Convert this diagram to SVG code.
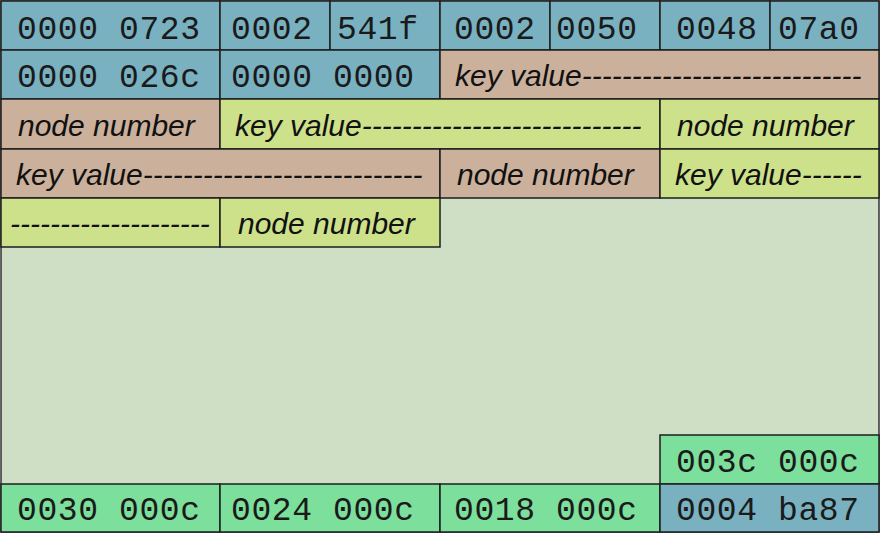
<svg xmlns="http://www.w3.org/2000/svg" width="881" height="534" viewBox="0 0 881 534">
  <style>
    .cell { stroke: #1e1e1e; stroke-width: 1.5; }
    .blue { fill: #79b1c1; }
    .tan { fill: #cbb09b; }
    .lime { fill: #cde08a; }
    .mint { fill: #7ddf9c; }
    .hex { font-family: "Liberation Mono", "Courier New", monospace; font-size: 33px; letter-spacing: 0.6px; fill: #1a1a1a; }
    .lbl { font-family: "Liberation Sans", Arial, sans-serif; font-size: 30px; font-style: italic; fill: #111; }
  </style>

  <!-- page background -->
  <rect x="1" y="1" width="878" height="531" fill="#cfdfc5" stroke="#333" stroke-width="1.5"/>

  <!-- row 1: header words -->
  <g id="hdr-0"><rect class="cell blue" x="1" y="1" width="219" height="49"/><text class="hex" x="17" y="39">0000 0723</text></g>
  <g id="hdr-1"><rect class="cell blue" x="220" y="1" width="110" height="49"/><text class="hex" x="231" y="39">0002</text></g>
  <g id="hdr-2"><rect class="cell blue" x="330" y="1" width="110" height="49"/><text class="hex" x="337" y="39">541f</text></g>
  <g id="hdr-3"><rect class="cell blue" x="440" y="1" width="110" height="49"/><text class="hex" x="454" y="39">0002</text></g>
  <g id="hdr-4"><rect class="cell blue" x="550" y="1" width="110" height="49"/><text class="hex" x="556" y="39">0050</text></g>
  <g id="hdr-5"><rect class="cell blue" x="660" y="1" width="110" height="49"/><text class="hex" x="676" y="39">0048</text></g>
  <g id="hdr-6"><rect class="cell blue" x="770" y="1" width="109" height="49"/><text class="hex" x="778" y="39">07a0</text></g>

  <!-- row 2 -->
  <g id="hdr-7"><rect class="cell blue" x="1" y="50" width="219" height="49"/><text class="hex" x="17" y="87">0000 026c</text></g>
  <g id="hdr-8"><rect class="cell blue" x="220" y="50" width="220" height="49"/><text class="hex" x="231" y="87">0000 0000</text></g>
  <g id="key-1"><rect class="cell tan" x="440" y="50" width="439" height="49"/><text class="lbl" x="455" y="86">key value----------------------------</text></g>

  <!-- row 3 -->
  <g id="node-1"><rect class="cell tan" x="1" y="99" width="219" height="50"/><text class="lbl" x="18" y="136">node number</text></g>
  <g id="key-2"><rect class="cell lime" x="220" y="99" width="440" height="50"/><text class="lbl" x="235" y="136">key value----------------------------</text></g>
  <g id="node-2"><rect class="cell lime" x="660" y="99" width="219" height="50"/><text class="lbl" x="677" y="136">node number</text></g>

  <!-- row 4 -->
  <g id="key-3"><rect class="cell tan" x="1" y="149" width="439" height="49"/><text class="lbl" x="16" y="185">key value----------------------------</text></g>
  <g id="node-3"><rect class="cell tan" x="440" y="149" width="220" height="49"/><text class="lbl" x="457" y="185">node number</text></g>
  <g id="key-4"><rect class="cell lime" x="660" y="149" width="219" height="49"/><text class="lbl" x="675" y="185">key value------</text></g>

  <!-- row 5 -->
  <g id="key-4b"><rect class="cell lime" x="1" y="198" width="219" height="49"/><text class="lbl" x="10" y="234">--------------------</text></g>
  <g id="node-4"><rect class="cell lime" x="220" y="198" width="220" height="49"/><text class="lbl" x="238" y="234">node number</text></g>

  <!-- offset table at the bottom -->
  <g id="ofs-4"><rect class="cell mint" x="660" y="435" width="219" height="49"/><text class="hex" x="676" y="472">003c 000c</text></g>
  <g id="ofs-0"><rect class="cell mint" x="1" y="484" width="219" height="48"/><text class="hex" x="17" y="520">0030 000c</text></g>
  <g id="ofs-1"><rect class="cell mint" x="220" y="484" width="220" height="48"/><text class="hex" x="231" y="520">0024 000c</text></g>
  <g id="ofs-2"><rect class="cell mint" x="440" y="484" width="220" height="48"/><text class="hex" x="454" y="520">0018 000c</text></g>
  <g id="ofs-3"><rect class="cell blue" x="660" y="484" width="219" height="48"/><text class="hex" x="676" y="520">0004 ba87</text></g>

  <g id="connectors"/>
</svg>
